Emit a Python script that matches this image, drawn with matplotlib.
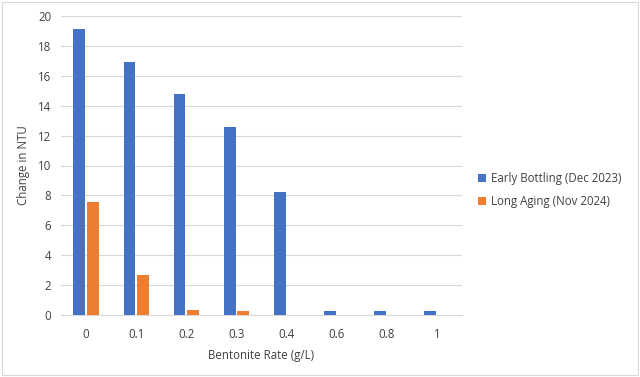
import numpy as np
import matplotlib
matplotlib.use("Agg")
import matplotlib.pyplot as plt

plt.rcParams['font.family'] = ['Open Sans', 'DejaVu Sans']

rates = ["0", "0.1", "0.2", "0.3", "0.4", "0.6", "0.8", "1"]
early = [19.1, 16.9, 14.75, 12.6, 8.25, 0.3, 0.3, 0.3]
aging = [7.55, 2.7, 0.33, 0.27, 0, 0, 0, 0]
yticks = [0, 2, 4, 6, 8, 10, 12, 14, 16, 18, 20]

fig = plt.figure(figsize=(6.4, 3.77), dpi=100)
ax = fig.add_axes([61 / 640, 1 - 315 / 377, 401 / 640, 299 / 377])

x = np.arange(len(rates))
w = 0.235
ax.bar(x - 0.135, early, w, color="#4472C4", label="Early Bottling (Dec 2023)", zorder=3)
ax.bar(x + 0.135, aging, w, color="#ED7D31", label="Long Aging (Nov 2024)", zorder=3)

ax.set_xlim(-0.5, len(rates) - 0.5)
ax.set_ylim(0, 20)
ax.set_yticks(yticks)
ax.set_xticks(x)
ax.set_xticklabels(rates)
ax.yaxis.grid(True, color="#D9D9D9", lw=0.8, zorder=0)
for s in ["top", "right", "left"]:
    ax.spines[s].set_visible(False)
ax.spines["bottom"].set_color("#D9D9D9")
ax.tick_params(axis="both", length=0, labelsize=8.3, colors="#404040", pad=7)
ax.tick_params(axis="x", pad=9)
ax.set_ylabel("Change in NTU", fontsize=8.3, color="#404040", labelpad=6)
ax.set_xlabel("Bentonite Rate (g/L)", fontsize=8.3, color="#404040", labelpad=6)

fig.legend(loc="upper left", bbox_to_anchor=(468 / 640, 1 - 162 / 377), frameon=False,
           fontsize=8.3, handlelength=0.7, handleheight=0.7, handletextpad=0.4,
           labelspacing=0.8, labelcolor="#404040")

fig.patches.append(plt.Rectangle((0.003, 0.004), 0.994, 0.99, transform=fig.transFigure,
                                 fill=False, edgecolor="#D9D9D9", lw=0.8))
fig.savefig("out.png", dpi=100)
